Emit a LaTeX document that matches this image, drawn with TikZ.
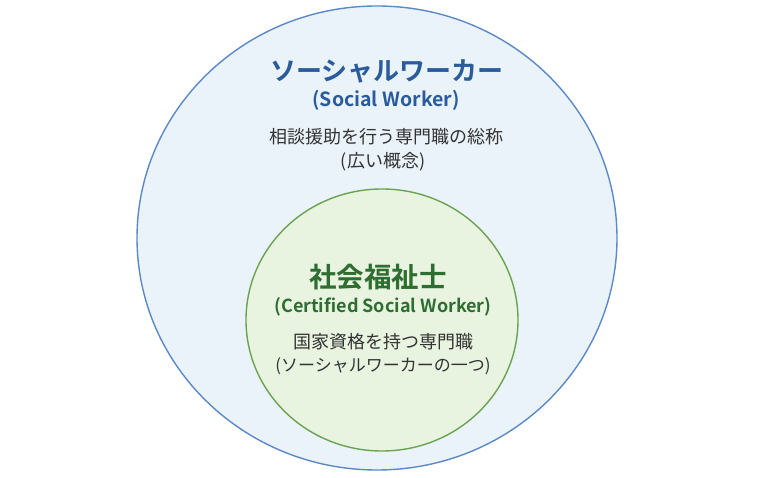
\documentclass[tikz,border=0pt]{standalone}
\usepackage{fontspec}
\usepackage{xcolor}
\setmainfont{Noto Sans CJK JP}
\newfontfamily\jpbold{Noto Sans CJK JP Bold}
\definecolor{outerfill}{HTML}{EAF2FA}
\definecolor{outerline}{HTML}{5B8AC6}
\definecolor{innerfill}{HTML}{E8F3E0}
\definecolor{innerline}{HTML}{6BA352}
\definecolor{titleblue}{HTML}{2A5C9C}
\definecolor{titlegreen}{HTML}{2E6E31}
\definecolor{bodytext}{HTML}{333333}

\begin{document}
\begin{tikzpicture}[x=1pt, y=-1pt,
    title/.style = {font=\jpbold\fontsize{26}{30}\selectfont},
    sub/.style = {font=\jpbold\fontsize{18}{21}\selectfont},
    body/.style = {font=\fontsize{18}{21}\selectfont, text=bodytext}]
            \useasboundingbox [fill=white] (0,0) rectangle (780,478);   %Rahmen
            \draw [outerline, fill=outerfill, line width=1.4pt] (377,238) ellipse [x radius=240, y radius=232];  %aussen
            \draw [innerline, fill=innerfill, line width=1.4pt] (382,320) ellipse [x radius=136, y radius=131];  %innen
            \node [title, text=titleblue] (swtitle) at (387,71) {ソーシャルワーカー};
            \node [sub, font=\jpbold\fontsize{19.5}{22}\selectfont, text=titleblue] (swsub) at (386,100) {(Social Worker)};
            \node [body] (swtext) at (386,137) {相談援助を行う専門職の総称};
            \node [body] (swnote) at (383,162) {(広い概念)};
            \node [title, font=\jpbold\fontsize{27.5}{32}\selectfont, text=titlegreen] (cswtitle) at (378,277) {社会福祉士};
            \node [sub, text=titlegreen] (cswsub) at (383,307) {(Certified Social Worker)};
            \node [body] (cswtext) at (383,342) {国家資格を持つ専門職};
            \node [body, font=\fontsize{17}{21}\selectfont] (cswnote) at (383,366) {(ソーシャルワーカーの一つ)};
        \end{tikzpicture}
\end{document}
